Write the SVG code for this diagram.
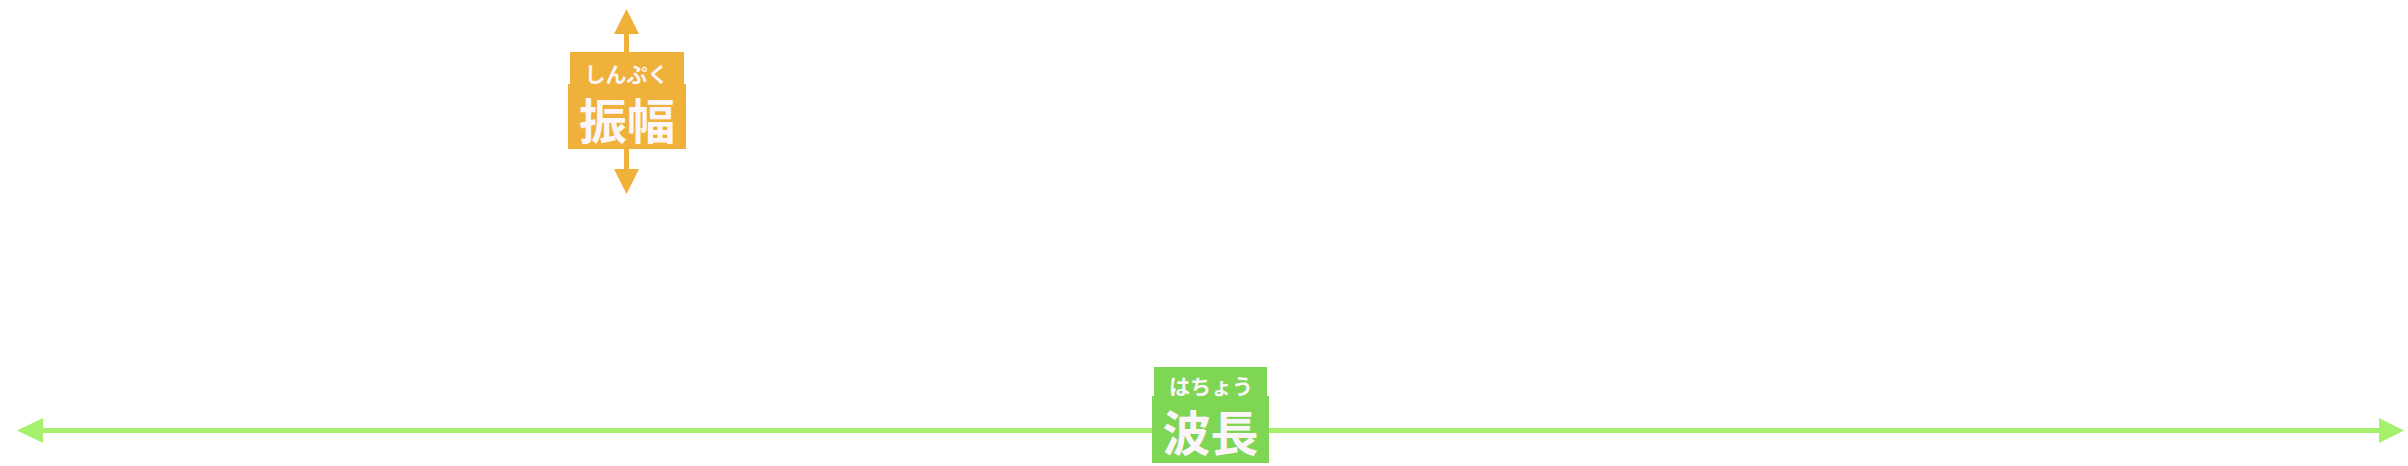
<svg xmlns="http://www.w3.org/2000/svg" width="2408" height="466" viewBox="0 0 2408 466">
<style>
.org{fill:#f0b13a}
.grn{fill:#7fd655}
.ln{fill:#a5f06c}
.rb{font-family:"Noto Sans CJK JP","Noto Sans CJK SC",sans-serif;font-weight:700;fill:#fcf6fb;text-anchor:middle}
.rb-s{font-size:21px}
.rb-l{font-size:48px}
</style>
<rect width="2408" height="466" fill="#ffffff"/>
<g id="connectors">
<g id="amplitude-arrow">
<rect class="org" x="624" y="33" width="5" height="20"/>
<polygon class="org" points="626.5,9 614,34 639,34"/>
<rect class="org" x="624" y="148" width="5" height="22"/>
<polygon class="org" points="626.5,194 614,169 639,169"/>
</g>
<g id="wavelength-arrow">
<rect class="ln" x="42" y="428" width="2338" height="5"/>
<polygon class="ln" points="17,430.5 43,418 43,443"/>
<polygon class="ln" points="2404,430.5 2379,418 2379,443"/>
</g>
</g>
<g id="amplitude-label">
<rect class="org" x="570" y="52" width="114" height="33"/>
<rect class="org" x="568" y="84" width="118" height="65"/>
<text class="rb rb-s" x="626.5" y="82">しんぷく</text>
<text class="rb rb-l" x="627" y="139">振幅</text>
</g>
<g id="wavelength-label">
<rect class="grn" x="1154" y="367" width="113" height="30"/>
<rect class="grn" x="1152" y="396" width="117" height="67"/>
<text class="rb rb-s" x="1211" y="394">はちょう</text>
<text class="rb rb-l" x="1210.5" y="451">波長</text>
</g>
</svg>
